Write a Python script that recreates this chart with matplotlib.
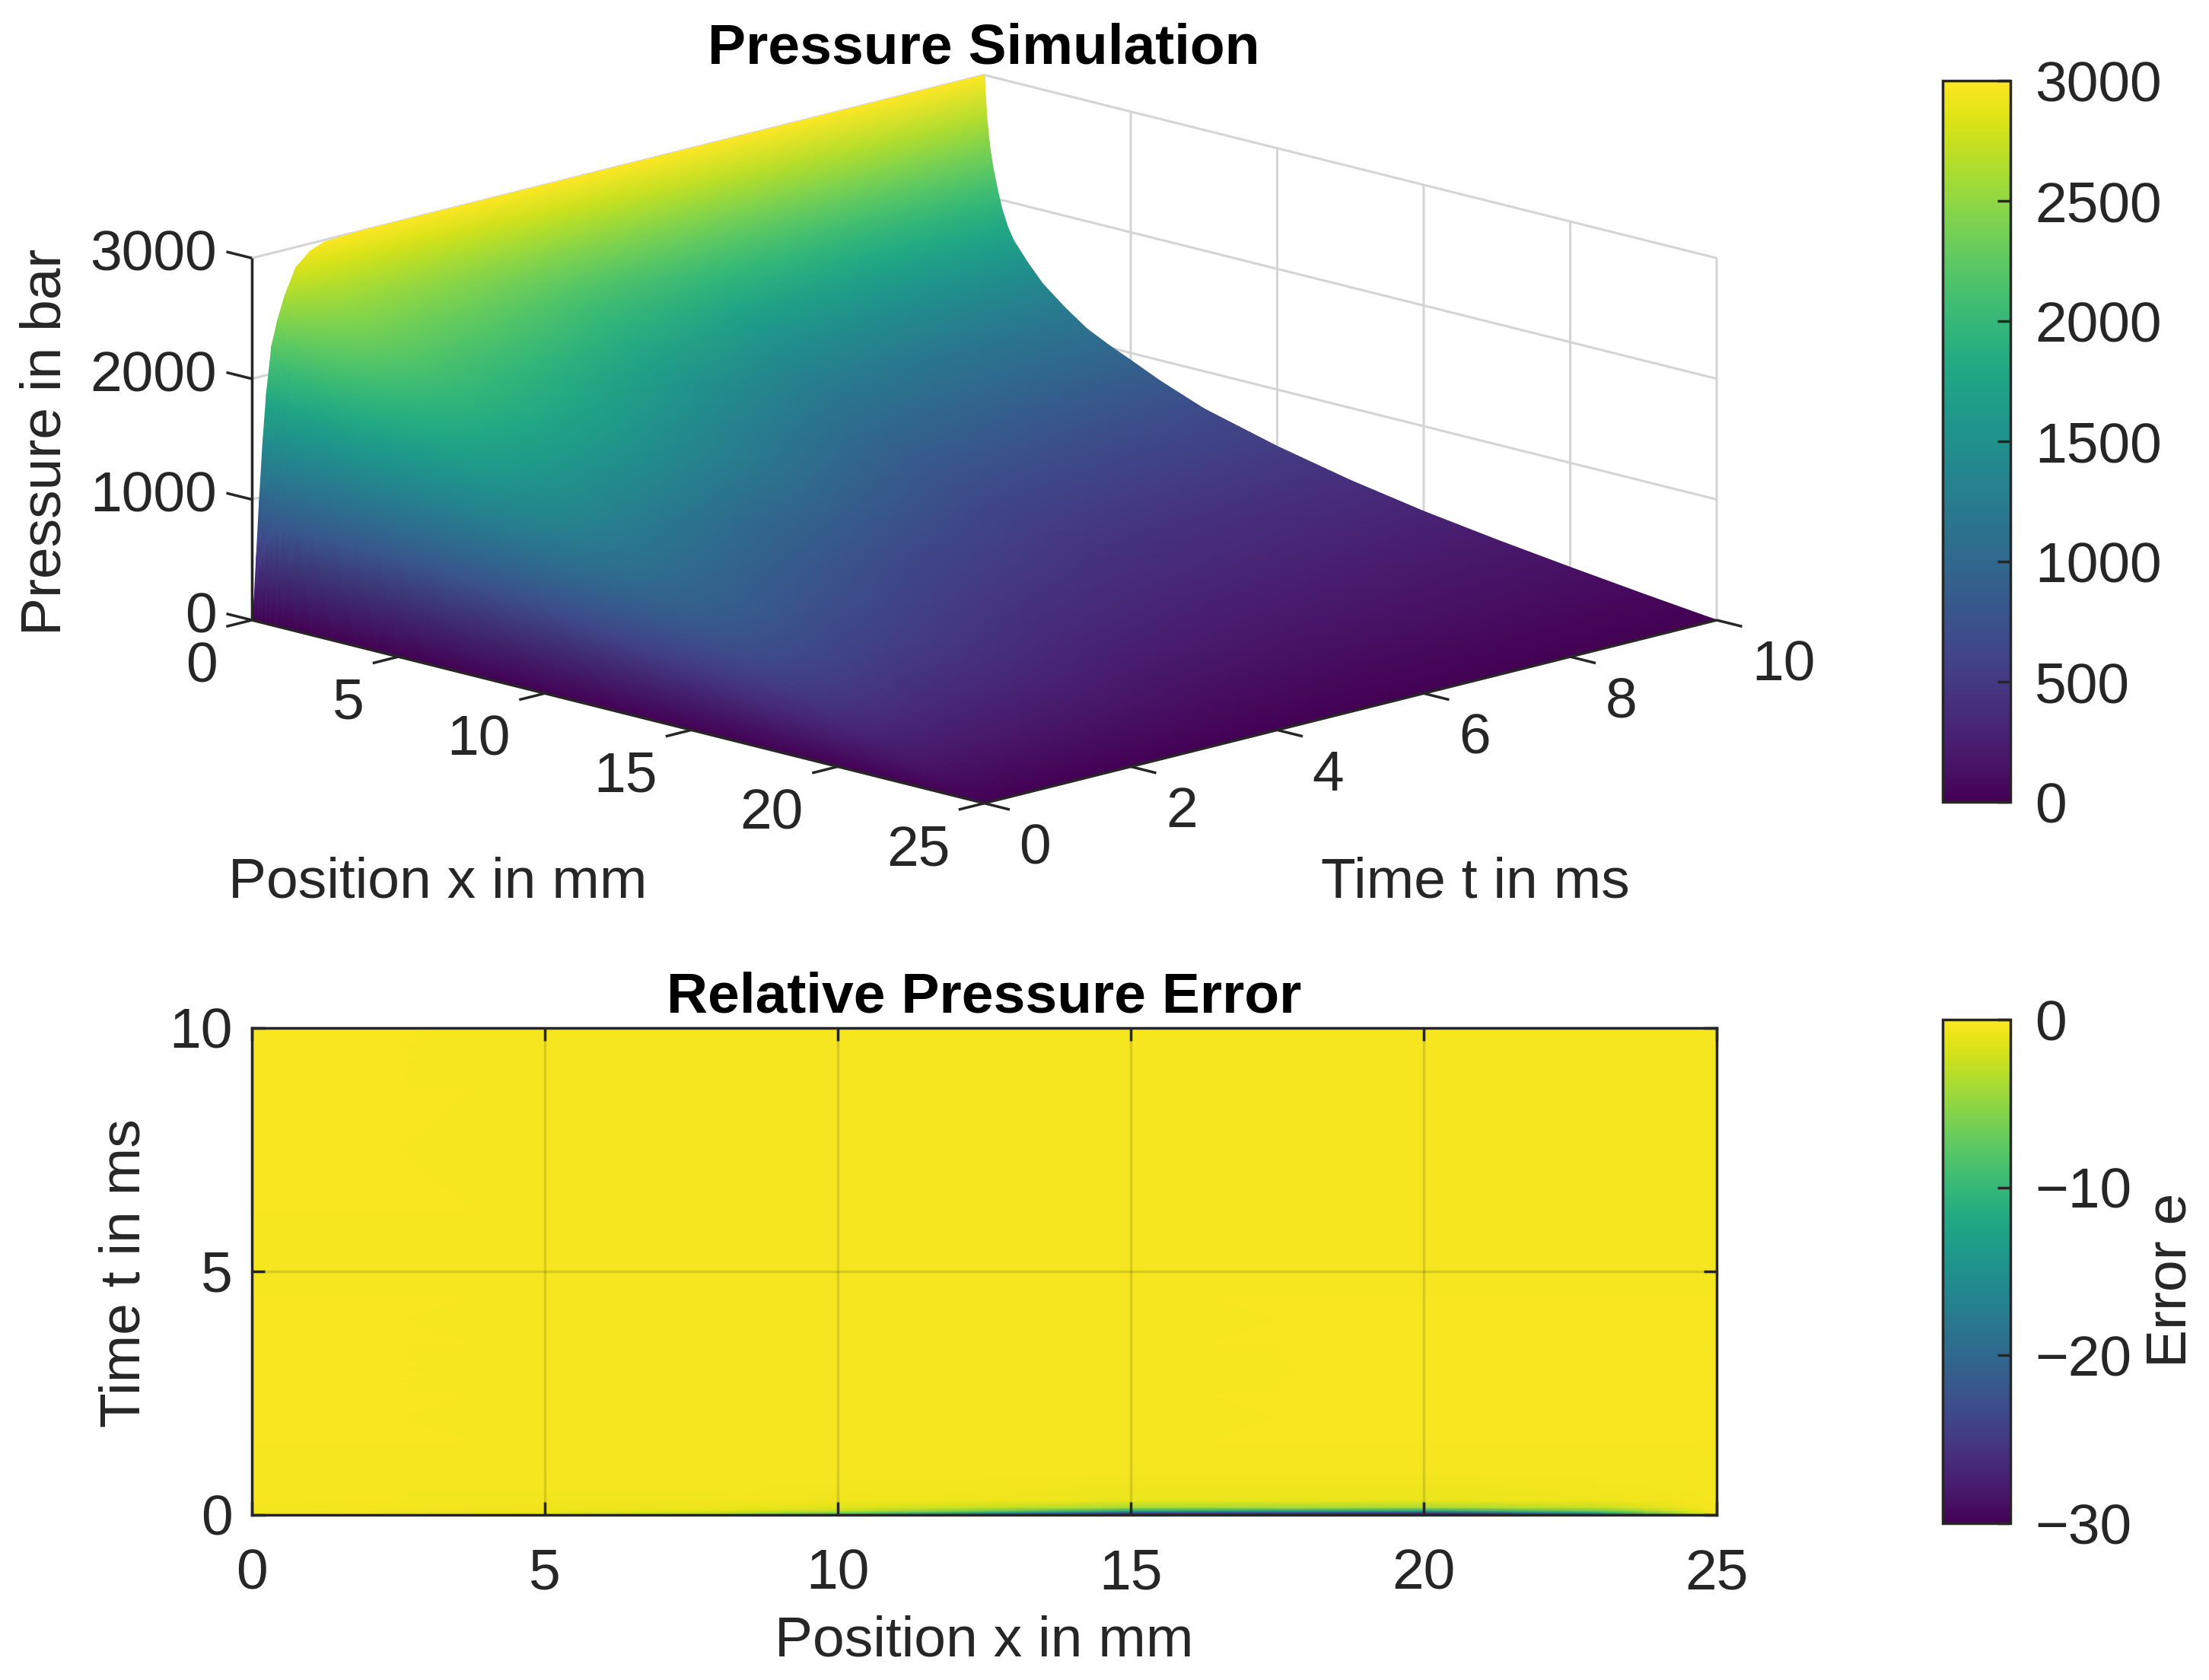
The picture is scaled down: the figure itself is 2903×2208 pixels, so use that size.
import matplotlib
matplotlib.use('Agg')
import matplotlib.pyplot as plt
import numpy as np
from matplotlib.collections import QuadMesh
from matplotlib.colors import Normalize
from matplotlib.cm import ScalarMappable
from mpl_toolkits.mplot3d import proj3d

plt.rcParams['font.family'] = ['Liberation Sans', 'DejaVu Sans']

# surface, rows are t, columns are x
x_mm = [0, 0.1, 0.2, 0.3, 0.45, 0.6, 0.8, 1, 1.5, 2, 2.75, 3.5, 4.25, 5, 6, 7.5, 10, 12.5, 15, 17.5, 20, 22.5, 25]
t_ms = [0, 0.03, 0.06, 0.1, 0.15, 0.2, 0.27, 0.35, 0.45, 0.6, 0.8, 1, 1.5, 2.5, 4, 6, 8, 10]
pressure = [
    [0, 0, 0, 0, 0, 0, 0, 0, 0, 0, 0, 0, 0, 0, 0, 0, 0, 0, 0, 0, 0, 0, 0],
    [150, 300, 450, 550, 650, 700, 750, 780, 800, 800, 800, 800, 800, 800, 790, 760, 690, 600, 500, 370, 230, 110, 0],
    [500, 600, 700, 800, 900, 950, 1000, 1020, 1050, 1050, 1050, 1040, 1030, 1020, 1000, 950, 850, 740, 600, 450, 280, 130, 0],
    [950, 1000, 1080, 1130, 1200, 1240, 1280, 1310, 1340, 1340, 1330, 1310, 1290, 1270, 1230, 1160, 1010, 860, 700, 530, 330, 150, 0],
    [1450, 1450, 1480, 1490, 1510, 1530, 1560, 1570, 1580, 1570, 1550, 1510, 1480, 1450, 1390, 1290, 1110, 930, 750, 570, 360, 165, 0],
    [1850, 1820, 1800, 1790, 1780, 1780, 1770, 1770, 1750, 1720, 1680, 1630, 1590, 1550, 1480, 1370, 1170, 970, 780, 590, 370, 175, 0],
    [2230, 2170, 2130, 2100, 2070, 2050, 2020, 2000, 1950, 1900, 1830, 1770, 1710, 1660, 1570, 1450, 1210, 1000, 800, 600, 380, 180, 0],
    [2430, 2370, 2340, 2310, 2280, 2260, 2230, 2200, 2140, 2090, 2010, 1930, 1860, 1790, 1680, 1530, 1250, 1020, 820, 610, 390, 185, 0],
    [2620, 2530, 2480, 2450, 2400, 2370, 2330, 2300, 2230, 2170, 2080, 1990, 1910, 1840, 1720, 1560, 1270, 1040, 830, 620, 395, 190, 0],
    [2830, 2690, 2630, 2580, 2530, 2490, 2440, 2400, 2320, 2250, 2150, 2050, 1960, 1880, 1760, 1590, 1290, 1050, 840, 620, 400, 190, 0],
    [2940, 2790, 2720, 2670, 2610, 2560, 2510, 2470, 2390, 2310, 2200, 2090, 2000, 1920, 1790, 1610, 1290, 1040, 830, 610, 395, 185, 0],
    [2985, 2830, 2760, 2700, 2640, 2590, 2540, 2500, 2420, 2340, 2220, 2110, 2020, 1940, 1800, 1620, 1280, 1030, 810, 600, 385, 180, 0],
    [3000, 2840, 2770, 2710, 2640, 2590, 2530, 2490, 2400, 2320, 2200, 2090, 2000, 1920, 1790, 1590, 1220, 970, 760, 560, 360, 170, 0],
    [3000, 2820, 2740, 2680, 2600, 2540, 2470, 2420, 2310, 2220, 2100, 1980, 1880, 1790, 1660, 1450, 1070, 840, 650, 480, 310, 145, 0],
    [3000, 2770, 2670, 2580, 2470, 2380, 2280, 2210, 2080, 1970, 1830, 1700, 1590, 1490, 1350, 1200, 900, 650, 490, 355, 230, 110, 0],
    [3000, 2710, 2550, 2420, 2280, 2160, 2040, 1950, 1770, 1640, 1470, 1340, 1230, 1140, 1010, 850, 640, 490, 385, 270, 175, 85, 0],
    [3000, 2650, 2440, 2290, 2120, 1990, 1850, 1750, 1590, 1450, 1290, 1170, 1080, 1000, 880, 740, 580, 430, 335, 235, 155, 75, 0],
    [3000, 2620, 2400, 2250, 2080, 1930, 1790, 1690, 1530, 1390, 1240, 1110, 1020, 940, 830, 690, 530, 400, 295, 210, 135, 65, 0],
]

# error panel
err_x = [0, 5, 8, 10, 12.5, 15, 20, 23, 24.5, 25]
err_t = [0, 0.04, 0.08, 0.15, 0.3, 1, 3, 5, 10]
error = [
    [-0.5, -2, -5, -12, -22, -28, -29, -20, -8, -0.5],
    [-0.5, -1.2, -3, -7, -15, -24, -25, -14, -3, -0.5],
    [-0.5, -0.8, -1.5, -3, -7, -13, -14, -7, -1.5, -0.5],
    [-0.5, -0.6, -0.9, -1.3, -2.5, -4, -4, -2.5, -0.8, -0.5],
    [-0.4, -0.5, -0.5, -0.6, -0.7, -0.9, -0.9, -0.7, -0.5, -0.4],
    [-0.4, -0.4, -0.4, -0.4, -0.4, -0.4, -0.4, -0.4, -0.4, -0.4],
    [-0.3, -0.4, -0.4, -0.4, -0.4, -0.4, -0.3, -0.3, -0.3, -0.3],
    [-0.4, -0.4, -0.4, -0.4, -0.4, -0.4, -0.4, -0.4, -0.4, -0.4],
    [-0.3, -0.4, -0.4, -0.4, -0.4, -0.4, -0.4, -0.4, -0.4, -0.4],
]

x_ticks = [0, 5, 10, 15, 20, 25]
t_ticks = [0, 2, 4, 6, 8, 10]
z_ticks = [0, 1000, 2000, 3000]
err_t_ticks = [0, 5, 10]
cb1_ticks = [0, 500, 1000, 1500, 2000, 2500, 3000]
cb2_ticks = [-30, -20, -10, 0]

W, H = 2903, 2208
FS = 54
DARK = '#262626'
LW = 2.5

fig = plt.figure(figsize=(W / 100, H / 100), dpi=100)


def put(px, py, s, **kw):
    # text by pixel position, y from the top
    kw.setdefault('color', DARK)
    kw.setdefault('fontsize', FS)
    kw.setdefault('ha', 'center')
    kw.setdefault('va', 'center')
    fig.text(px / W, 1 - py / H, s, **kw)


def box(x0, y0, x1, y1):
    return [x0 / W, 1 - y1 / H, (x1 - x0) / W, (y1 - y0) / H]


# --- top panel, 3d frame
ax = fig.add_axes([0, 0, 1, 1], projection='3d', proj_type='ortho')
ax.patch.set_visible(False)
ax.set_box_aspect((1, 1, 0.361))
ax.view_init(elev=14.48, azim=-45)
ax.set_xlim(0, 25, view_margin=0)
ax.set_ylim(0, 10, view_margin=0)
ax.set_zlim(0, 3000, view_margin=0)
ax.set_xticks(x_ticks)
ax.set_yticks(t_ticks)
ax.set_zticks(z_ticks)
ax.set_xticklabels([])
ax.set_yticklabels([])
ax.set_zticklabels([])
for axis in (ax.xaxis, ax.yaxis, ax.zaxis):
    axis.set_pane_color((1, 1, 1, 0))
    axis.pane.set_edgecolor('none')
    axis.line.set_visible(False)
    axis._axinfo['tick'].update(inward_factor=0, outward_factor=0)
    axis._axinfo['grid'].update(color='#d4d4d4', linewidth=2.2)
ax.zaxis.set_ticks_position('lower')


def project(xs, ys, zs):
    px, py, _ = proj3d.proj_transform(np.ravel(xs), np.ravel(ys), np.ravel(zs), ax.get_proj())
    return px.reshape(np.shape(xs)), py.reshape(np.shape(xs))


# scale the square axes box so the floor corners land where they should
cx, cy = project(np.array([0.0, 25.0]), np.array([0.0, 10.0]), np.array([0.0, 0.0]))
vl = ax.viewLim
side = (2256 - 331) * vl.width / (cx[1] - cx[0])
left = 331 - side * (cx[0] - vl.x0) / vl.width
bottom = (H - 815) - side * (cy[0] - vl.y0) / vl.height
ax.set_position([left / W, bottom / H, side / W, side / H])

# gouraud surface, back rows first
X, T = np.meshgrid(x_mm, t_ms)
P = np.array(pressure, dtype=float)
px, py = project(X, T, P)
coords = np.stack([px, py], axis=-1)[::-1]
surf = QuadMesh(coords, shading='gouraud', cmap='viridis', norm=Normalize(0, 3000),
                array=P[::-1], transform=ax.transData, antialiased=True)
surf.do_3d_projection = lambda: 0
ax.add_collection(surf, autolim=False)
surf.set_clip_on(False)

# axis edges and ticks, matlab style
line_kw = dict(color=DARK, lw=LW, zorder=20, solid_capstyle='butt', clip_on=False)
ax.plot([0, 25], [0, 0], [0, 0], **line_kw)
ax.plot([25, 25], [0, 10], [0, 0], **line_kw)
ax.plot([0, 0], [0, 0], [0, 3000], **line_kw)
for v in x_ticks:
    ax.plot([v, v], [0, -0.35], [0, 0], **line_kw)
for v in t_ticks:
    ax.plot([25, 25.87], [v, v], [0, 0], **line_kw)
for v in z_ticks:
    ax.plot([0, -0.87], [0, 0], [v, v], **line_kw)


def tick_text(xv, tv, zv, s, dx, dy, ha):
    px0, py0 = project(np.array([xv], float), np.array([tv], float), np.array([zv], float))
    ax.annotate(s, xy=(px0[0], py0[0]), xycoords='data', xytext=(dx, dy),
                textcoords='offset pixels', ha=ha, va='center', color=DARK,
                fontsize=FS, annotation_clip=False)


for v in x_ticks:
    tick_text(v, 0, 0, str(v), -45, -62, 'right')
for v in t_ticks:
    tick_text(25, v, 0, str(v), 46, -60, 'left')
for v in z_ticks:
    tick_text(0, 0, v, str(v), -46, 3, 'right')

put(1293, 64, 'Pressure Simulation', fontweight='bold', color='black')
put(575, 1160, 'Position x in mm')
put(1939, 1160, 'Time t in ms')
put(60, 581, 'Pressure in bar', rotation=90)

# top colorbar
cax1 = fig.add_axes(box(2553, 106, 2642, 1054))
cb1 = fig.colorbar(ScalarMappable(Normalize(0, 3000), 'viridis'), cax=cax1, ticks=cb1_ticks)
cb1.outline.set_edgecolor(DARK)
cb1.outline.set_linewidth(LW)
cax1.tick_params(direction='in', length=12, width=LW, color=DARK, labelcolor=DARK,
                 labelsize=FS, pad=23)

# --- bottom panel
ax2 = fig.add_axes(box(331, 1351, 2256, 1991))
ax2.pcolormesh(err_x, err_t, np.array(error), shading='gouraud', cmap='viridis', vmin=-30, vmax=0)
ax2.set_xlim(0, 25)
ax2.set_ylim(0, 10)
ax2.set_xticks(x_ticks)
ax2.set_yticks(err_t_ticks)
ax2.set_axisbelow(False)
ax2.grid(color=DARK, alpha=0.15, linewidth=LW)
ax2.tick_params(direction='in', top=True, right=True, length=12, width=LW, color=DARK,
                labelcolor=DARK, labelsize=FS, pad=18)
ax2.tick_params(axis='x', pad=31)
for sp in ax2.spines.values():
    sp.set_edgecolor(DARK)
    sp.set_linewidth(LW)

put(1293, 1311, 'Relative Pressure Error', fontweight='bold', color='black')
put(1293, 2157, 'Position x in mm')
put(164, 1673, 'Time t in ms', rotation=90)

cax2 = fig.add_axes(box(2553, 1340, 2642, 2002))
cb2 = fig.colorbar(ScalarMappable(Normalize(-30, 0), 'viridis'), cax=cax2, ticks=cb2_ticks)
cb2.outline.set_edgecolor(DARK)
cb2.outline.set_linewidth(LW)
cax2.tick_params(direction='in', length=12, width=LW, color=DARK, labelcolor=DARK,
                 labelsize=FS, pad=23)
put(2853, 1682, 'Error e', rotation=90)

fig.savefig('out.png', dpi=100)
